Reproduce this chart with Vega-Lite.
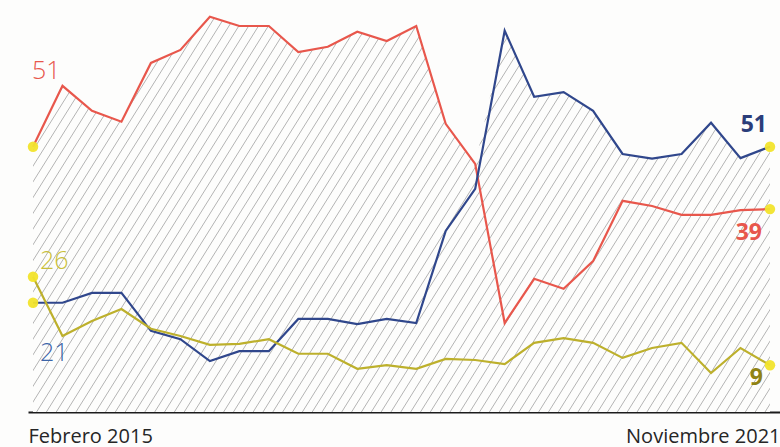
{
"$schema":"https://vega.github.io/schema/vega-lite/v6.json",
"autosize":{"type":"none"},
"padding":{"left":28,"top":0,"right":0,"bottom":35},
"width":752,"height":412,
"background":"#fdfdfc",
"config":{"view":{"stroke":null}},
"data":{"values":[
{"i":0,"s":"rojo","v":51},{"i":1,"s":"rojo","v":62.7},{"i":2,"s":"rojo","v":57.9},{"i":3,"s":"rojo","v":55.8},{"i":4,"s":"rojo","v":67.1},{"i":5,"s":"rojo","v":69.6},{"i":6,"s":"rojo","v":76},{"i":7,"s":"rojo","v":74.2},{"i":8,"s":"rojo","v":74.2},{"i":9,"s":"rojo","v":69.2},{"i":10,"s":"rojo","v":70.2},{"i":11,"s":"rojo","v":73.1},{"i":12,"s":"rojo","v":71.3},{"i":13,"s":"rojo","v":74.2},{"i":14,"s":"rojo","v":55.4},{"i":15,"s":"rojo","v":47.7},{"i":16,"s":"rojo","v":17.1},{"i":17,"s":"rojo","v":25.6},{"i":18,"s":"rojo","v":23.7},{"i":19,"s":"rojo","v":29},{"i":20,"s":"rojo","v":40.6},{"i":21,"s":"rojo","v":39.6},{"i":22,"s":"rojo","v":37.9},{"i":23,"s":"rojo","v":37.9},{"i":24,"s":"rojo","v":38.8},{"i":25,"s":"rojo","v":39},
{"i":0,"s":"azul","v":21},{"i":1,"s":"azul","v":21},{"i":2,"s":"azul","v":22.9},{"i":3,"s":"azul","v":22.9},{"i":4,"s":"azul","v":15.6},{"i":5,"s":"azul","v":14},{"i":6,"s":"azul","v":9.8},{"i":7,"s":"azul","v":11.7},{"i":8,"s":"azul","v":11.7},{"i":9,"s":"azul","v":17.9},{"i":10,"s":"azul","v":17.9},{"i":11,"s":"azul","v":16.9},{"i":12,"s":"azul","v":17.9},{"i":13,"s":"azul","v":17.1},{"i":14,"s":"azul","v":34.8},{"i":15,"s":"azul","v":42.9},{"i":16,"s":"azul","v":73.3},{"i":17,"s":"azul","v":60.6},{"i":18,"s":"azul","v":61.5},{"i":19,"s":"azul","v":57.9},{"i":20,"s":"azul","v":49.6},{"i":21,"s":"azul","v":48.7},{"i":22,"s":"azul","v":49.6},{"i":23,"s":"azul","v":55.6},{"i":24,"s":"azul","v":48.8},{"i":25,"s":"azul","v":51},
{"i":0,"s":"amarillo","v":26},{"i":1,"s":"amarillo","v":14.6},{"i":2,"s":"amarillo","v":17.5},{"i":3,"s":"amarillo","v":19.8},{"i":4,"s":"amarillo","v":16},{"i":5,"s":"amarillo","v":14.6},{"i":6,"s":"amarillo","v":12.9},{"i":7,"s":"amarillo","v":13.1},{"i":8,"s":"amarillo","v":14},{"i":9,"s":"amarillo","v":11.2},{"i":10,"s":"amarillo","v":11.2},{"i":11,"s":"amarillo","v":8.3},{"i":12,"s":"amarillo","v":9},{"i":13,"s":"amarillo","v":8.3},{"i":14,"s":"amarillo","v":10.2},{"i":15,"s":"amarillo","v":10},{"i":16,"s":"amarillo","v":9.2},{"i":17,"s":"amarillo","v":13.3},{"i":18,"s":"amarillo","v":14.2},{"i":19,"s":"amarillo","v":13.3},{"i":20,"s":"amarillo","v":10.4},{"i":21,"s":"amarillo","v":12.3},{"i":22,"s":"amarillo","v":13.3},{"i":23,"s":"amarillo","v":7.5},{"i":24,"s":"amarillo","v":12.3},{"i":25,"s":"amarillo","v":9}
]},
"encoding":{
"x":{"field":"i","type":"quantitative","scale":{"domain":[-0.17,25.34],"nice":false,"zero":false},
"axis":{"values":[-0.17,25.34],"labelExpr":"datum.value < 0 ? 'Febrero 2015' : 'Noviembre 2021'","labelFlush":true,"labelOverlap":false,"ticks":false,"tickSize":0,"grid":false,"domainColor":"#1c1c1c","domainWidth":2,"labelFont":"Open Sans","labelFontSize":20,"labelColor":"#262626","labelPadding":14,"labelBaseline":"top","title":null}},
"y":{"field":"v","type":"quantitative","scale":{"domain":[0,79.2],"nice":false},"axis":null}
},
"layer":[
{"mark":{"type":"area","fill":{"gradient":"linear","x1":0,"y1":0,"x2":1.2004,"y2":0.4031,"stops":[
{"offset":0.004,"color":"#fdfdfc"},{"offset":0.005,"color":"#b3b3b3"},{"offset":0.006,"color":"#fdfdfc"},
{"offset":0.014,"color":"#fdfdfc"},{"offset":0.015,"color":"#b3b3b3"},{"offset":0.016,"color":"#fdfdfc"},
{"offset":0.024,"color":"#fdfdfc"},{"offset":0.025,"color":"#b3b3b3"},{"offset":0.026,"color":"#fdfdfc"},
{"offset":0.034,"color":"#fdfdfc"},{"offset":0.035,"color":"#b3b3b3"},{"offset":0.036,"color":"#fdfdfc"},
{"offset":0.044,"color":"#fdfdfc"},{"offset":0.045,"color":"#b3b3b3"},{"offset":0.046,"color":"#fdfdfc"},
{"offset":0.054,"color":"#fdfdfc"},{"offset":0.055,"color":"#b3b3b3"},{"offset":0.056,"color":"#fdfdfc"},
{"offset":0.064,"color":"#fdfdfc"},{"offset":0.065,"color":"#b3b3b3"},{"offset":0.066,"color":"#fdfdfc"},
{"offset":0.074,"color":"#fdfdfc"},{"offset":0.075,"color":"#b3b3b3"},{"offset":0.076,"color":"#fdfdfc"},
{"offset":0.084,"color":"#fdfdfc"},{"offset":0.085,"color":"#b3b3b3"},{"offset":0.086,"color":"#fdfdfc"},
{"offset":0.094,"color":"#fdfdfc"},{"offset":0.095,"color":"#b3b3b3"},{"offset":0.096,"color":"#fdfdfc"},
{"offset":0.104,"color":"#fdfdfc"},{"offset":0.105,"color":"#b3b3b3"},{"offset":0.106,"color":"#fdfdfc"},
{"offset":0.114,"color":"#fdfdfc"},{"offset":0.115,"color":"#b3b3b3"},{"offset":0.116,"color":"#fdfdfc"},
{"offset":0.124,"color":"#fdfdfc"},{"offset":0.125,"color":"#b3b3b3"},{"offset":0.126,"color":"#fdfdfc"},
{"offset":0.134,"color":"#fdfdfc"},{"offset":0.135,"color":"#b3b3b3"},{"offset":0.136,"color":"#fdfdfc"},
{"offset":0.144,"color":"#fdfdfc"},{"offset":0.145,"color":"#b3b3b3"},{"offset":0.146,"color":"#fdfdfc"},
{"offset":0.154,"color":"#fdfdfc"},{"offset":0.155,"color":"#b3b3b3"},{"offset":0.156,"color":"#fdfdfc"},
{"offset":0.164,"color":"#fdfdfc"},{"offset":0.165,"color":"#b3b3b3"},{"offset":0.166,"color":"#fdfdfc"},
{"offset":0.174,"color":"#fdfdfc"},{"offset":0.175,"color":"#b3b3b3"},{"offset":0.176,"color":"#fdfdfc"},
{"offset":0.184,"color":"#fdfdfc"},{"offset":0.185,"color":"#b3b3b3"},{"offset":0.186,"color":"#fdfdfc"},
{"offset":0.194,"color":"#fdfdfc"},{"offset":0.195,"color":"#b3b3b3"},{"offset":0.196,"color":"#fdfdfc"},
{"offset":0.204,"color":"#fdfdfc"},{"offset":0.205,"color":"#b3b3b3"},{"offset":0.206,"color":"#fdfdfc"},
{"offset":0.214,"color":"#fdfdfc"},{"offset":0.215,"color":"#b3b3b3"},{"offset":0.216,"color":"#fdfdfc"},
{"offset":0.224,"color":"#fdfdfc"},{"offset":0.225,"color":"#b3b3b3"},{"offset":0.226,"color":"#fdfdfc"},
{"offset":0.234,"color":"#fdfdfc"},{"offset":0.235,"color":"#b3b3b3"},{"offset":0.236,"color":"#fdfdfc"},
{"offset":0.244,"color":"#fdfdfc"},{"offset":0.245,"color":"#b3b3b3"},{"offset":0.246,"color":"#fdfdfc"},
{"offset":0.254,"color":"#fdfdfc"},{"offset":0.255,"color":"#b3b3b3"},{"offset":0.256,"color":"#fdfdfc"},
{"offset":0.264,"color":"#fdfdfc"},{"offset":0.265,"color":"#b3b3b3"},{"offset":0.266,"color":"#fdfdfc"},
{"offset":0.274,"color":"#fdfdfc"},{"offset":0.275,"color":"#b3b3b3"},{"offset":0.276,"color":"#fdfdfc"},
{"offset":0.284,"color":"#fdfdfc"},{"offset":0.285,"color":"#b3b3b3"},{"offset":0.286,"color":"#fdfdfc"},
{"offset":0.294,"color":"#fdfdfc"},{"offset":0.295,"color":"#b3b3b3"},{"offset":0.296,"color":"#fdfdfc"},
{"offset":0.304,"color":"#fdfdfc"},{"offset":0.305,"color":"#b3b3b3"},{"offset":0.306,"color":"#fdfdfc"},
{"offset":0.314,"color":"#fdfdfc"},{"offset":0.315,"color":"#b3b3b3"},{"offset":0.316,"color":"#fdfdfc"},
{"offset":0.324,"color":"#fdfdfc"},{"offset":0.325,"color":"#b3b3b3"},{"offset":0.326,"color":"#fdfdfc"},
{"offset":0.334,"color":"#fdfdfc"},{"offset":0.335,"color":"#b3b3b3"},{"offset":0.336,"color":"#fdfdfc"},
{"offset":0.344,"color":"#fdfdfc"},{"offset":0.345,"color":"#b3b3b3"},{"offset":0.346,"color":"#fdfdfc"},
{"offset":0.354,"color":"#fdfdfc"},{"offset":0.355,"color":"#b3b3b3"},{"offset":0.356,"color":"#fdfdfc"},
{"offset":0.364,"color":"#fdfdfc"},{"offset":0.365,"color":"#b3b3b3"},{"offset":0.366,"color":"#fdfdfc"},
{"offset":0.374,"color":"#fdfdfc"},{"offset":0.375,"color":"#b3b3b3"},{"offset":0.376,"color":"#fdfdfc"},
{"offset":0.384,"color":"#fdfdfc"},{"offset":0.385,"color":"#b3b3b3"},{"offset":0.386,"color":"#fdfdfc"},
{"offset":0.394,"color":"#fdfdfc"},{"offset":0.395,"color":"#b3b3b3"},{"offset":0.396,"color":"#fdfdfc"},
{"offset":0.404,"color":"#fdfdfc"},{"offset":0.405,"color":"#b3b3b3"},{"offset":0.406,"color":"#fdfdfc"},
{"offset":0.414,"color":"#fdfdfc"},{"offset":0.415,"color":"#b3b3b3"},{"offset":0.416,"color":"#fdfdfc"},
{"offset":0.424,"color":"#fdfdfc"},{"offset":0.425,"color":"#b3b3b3"},{"offset":0.426,"color":"#fdfdfc"},
{"offset":0.434,"color":"#fdfdfc"},{"offset":0.435,"color":"#b3b3b3"},{"offset":0.436,"color":"#fdfdfc"},
{"offset":0.444,"color":"#fdfdfc"},{"offset":0.445,"color":"#b3b3b3"},{"offset":0.446,"color":"#fdfdfc"},
{"offset":0.454,"color":"#fdfdfc"},{"offset":0.455,"color":"#b3b3b3"},{"offset":0.456,"color":"#fdfdfc"},
{"offset":0.464,"color":"#fdfdfc"},{"offset":0.465,"color":"#b3b3b3"},{"offset":0.466,"color":"#fdfdfc"},
{"offset":0.474,"color":"#fdfdfc"},{"offset":0.475,"color":"#b3b3b3"},{"offset":0.476,"color":"#fdfdfc"},
{"offset":0.484,"color":"#fdfdfc"},{"offset":0.485,"color":"#b3b3b3"},{"offset":0.486,"color":"#fdfdfc"},
{"offset":0.494,"color":"#fdfdfc"},{"offset":0.495,"color":"#b3b3b3"},{"offset":0.496,"color":"#fdfdfc"},
{"offset":0.504,"color":"#fdfdfc"},{"offset":0.505,"color":"#b3b3b3"},{"offset":0.506,"color":"#fdfdfc"},
{"offset":0.514,"color":"#fdfdfc"},{"offset":0.515,"color":"#b3b3b3"},{"offset":0.516,"color":"#fdfdfc"},
{"offset":0.524,"color":"#fdfdfc"},{"offset":0.525,"color":"#b3b3b3"},{"offset":0.526,"color":"#fdfdfc"},
{"offset":0.534,"color":"#fdfdfc"},{"offset":0.535,"color":"#b3b3b3"},{"offset":0.536,"color":"#fdfdfc"},
{"offset":0.544,"color":"#fdfdfc"},{"offset":0.545,"color":"#b3b3b3"},{"offset":0.546,"color":"#fdfdfc"},
{"offset":0.554,"color":"#fdfdfc"},{"offset":0.555,"color":"#b3b3b3"},{"offset":0.556,"color":"#fdfdfc"},
{"offset":0.564,"color":"#fdfdfc"},{"offset":0.565,"color":"#b3b3b3"},{"offset":0.566,"color":"#fdfdfc"},
{"offset":0.574,"color":"#fdfdfc"},{"offset":0.575,"color":"#b3b3b3"},{"offset":0.576,"color":"#fdfdfc"},
{"offset":0.584,"color":"#fdfdfc"},{"offset":0.585,"color":"#b3b3b3"},{"offset":0.586,"color":"#fdfdfc"},
{"offset":0.594,"color":"#fdfdfc"},{"offset":0.595,"color":"#b3b3b3"},{"offset":0.596,"color":"#fdfdfc"},
{"offset":0.604,"color":"#fdfdfc"},{"offset":0.605,"color":"#b3b3b3"},{"offset":0.606,"color":"#fdfdfc"},
{"offset":0.614,"color":"#fdfdfc"},{"offset":0.615,"color":"#b3b3b3"},{"offset":0.616,"color":"#fdfdfc"},
{"offset":0.624,"color":"#fdfdfc"},{"offset":0.625,"color":"#b3b3b3"},{"offset":0.626,"color":"#fdfdfc"},
{"offset":0.634,"color":"#fdfdfc"},{"offset":0.635,"color":"#b3b3b3"},{"offset":0.636,"color":"#fdfdfc"},
{"offset":0.644,"color":"#fdfdfc"},{"offset":0.645,"color":"#b3b3b3"},{"offset":0.646,"color":"#fdfdfc"},
{"offset":0.654,"color":"#fdfdfc"},{"offset":0.655,"color":"#b3b3b3"},{"offset":0.656,"color":"#fdfdfc"},
{"offset":0.664,"color":"#fdfdfc"},{"offset":0.665,"color":"#b3b3b3"},{"offset":0.666,"color":"#fdfdfc"},
{"offset":0.674,"color":"#fdfdfc"},{"offset":0.675,"color":"#b3b3b3"},{"offset":0.676,"color":"#fdfdfc"},
{"offset":0.684,"color":"#fdfdfc"},{"offset":0.685,"color":"#b3b3b3"},{"offset":0.686,"color":"#fdfdfc"},
{"offset":0.694,"color":"#fdfdfc"},{"offset":0.695,"color":"#b3b3b3"},{"offset":0.696,"color":"#fdfdfc"},
{"offset":0.704,"color":"#fdfdfc"},{"offset":0.705,"color":"#b3b3b3"},{"offset":0.706,"color":"#fdfdfc"},
{"offset":0.714,"color":"#fdfdfc"},{"offset":0.715,"color":"#b3b3b3"},{"offset":0.716,"color":"#fdfdfc"},
{"offset":0.724,"color":"#fdfdfc"},{"offset":0.725,"color":"#b3b3b3"},{"offset":0.726,"color":"#fdfdfc"},
{"offset":0.734,"color":"#fdfdfc"},{"offset":0.735,"color":"#b3b3b3"},{"offset":0.736,"color":"#fdfdfc"},
{"offset":0.744,"color":"#fdfdfc"},{"offset":0.745,"color":"#b3b3b3"},{"offset":0.746,"color":"#fdfdfc"},
{"offset":0.754,"color":"#fdfdfc"},{"offset":0.755,"color":"#b3b3b3"},{"offset":0.756,"color":"#fdfdfc"},
{"offset":0.764,"color":"#fdfdfc"},{"offset":0.765,"color":"#b3b3b3"},{"offset":0.766,"color":"#fdfdfc"},
{"offset":0.774,"color":"#fdfdfc"},{"offset":0.775,"color":"#b3b3b3"},{"offset":0.776,"color":"#fdfdfc"},
{"offset":0.784,"color":"#fdfdfc"},{"offset":0.785,"color":"#b3b3b3"},{"offset":0.786,"color":"#fdfdfc"},
{"offset":0.794,"color":"#fdfdfc"},{"offset":0.795,"color":"#b3b3b3"},{"offset":0.796,"color":"#fdfdfc"},
{"offset":0.804,"color":"#fdfdfc"},{"offset":0.805,"color":"#b3b3b3"},{"offset":0.806,"color":"#fdfdfc"},
{"offset":0.814,"color":"#fdfdfc"},{"offset":0.815,"color":"#b3b3b3"},{"offset":0.816,"color":"#fdfdfc"},
{"offset":0.824,"color":"#fdfdfc"},{"offset":0.825,"color":"#b3b3b3"},{"offset":0.826,"color":"#fdfdfc"},
{"offset":0.834,"color":"#fdfdfc"},{"offset":0.835,"color":"#b3b3b3"},{"offset":0.836,"color":"#fdfdfc"},
{"offset":0.844,"color":"#fdfdfc"},{"offset":0.845,"color":"#b3b3b3"},{"offset":0.846,"color":"#fdfdfc"},
{"offset":0.854,"color":"#fdfdfc"},{"offset":0.855,"color":"#b3b3b3"},{"offset":0.856,"color":"#fdfdfc"},
{"offset":0.864,"color":"#fdfdfc"},{"offset":0.865,"color":"#b3b3b3"},{"offset":0.866,"color":"#fdfdfc"},
{"offset":0.874,"color":"#fdfdfc"},{"offset":0.875,"color":"#b3b3b3"},{"offset":0.876,"color":"#fdfdfc"},
{"offset":0.884,"color":"#fdfdfc"},{"offset":0.885,"color":"#b3b3b3"},{"offset":0.886,"color":"#fdfdfc"},
{"offset":0.894,"color":"#fdfdfc"},{"offset":0.895,"color":"#b3b3b3"},{"offset":0.896,"color":"#fdfdfc"},
{"offset":0.904,"color":"#fdfdfc"},{"offset":0.905,"color":"#b3b3b3"},{"offset":0.906,"color":"#fdfdfc"},
{"offset":0.914,"color":"#fdfdfc"},{"offset":0.915,"color":"#b3b3b3"},{"offset":0.916,"color":"#fdfdfc"},
{"offset":0.924,"color":"#fdfdfc"},{"offset":0.925,"color":"#b3b3b3"},{"offset":0.926,"color":"#fdfdfc"},
{"offset":0.934,"color":"#fdfdfc"},{"offset":0.935,"color":"#b3b3b3"},{"offset":0.936,"color":"#fdfdfc"},
{"offset":0.944,"color":"#fdfdfc"},{"offset":0.945,"color":"#b3b3b3"},{"offset":0.946,"color":"#fdfdfc"},
{"offset":0.954,"color":"#fdfdfc"},{"offset":0.955,"color":"#b3b3b3"},{"offset":0.956,"color":"#fdfdfc"},
{"offset":0.964,"color":"#fdfdfc"},{"offset":0.965,"color":"#b3b3b3"},{"offset":0.966,"color":"#fdfdfc"},
{"offset":0.974,"color":"#fdfdfc"},{"offset":0.975,"color":"#b3b3b3"},{"offset":0.976,"color":"#fdfdfc"},
{"offset":0.984,"color":"#fdfdfc"},{"offset":0.985,"color":"#b3b3b3"},{"offset":0.986,"color":"#fdfdfc"},
{"offset":0.994,"color":"#fdfdfc"},{"offset":0.995,"color":"#b3b3b3"},{"offset":0.996,"color":"#fdfdfc"}
]},"strokeWidth":0},
"encoding":{"y":{"aggregate":"max","field":"v","type":"quantitative","scale":{"domain":[0,79.2],"nice":false},"axis":null}}},
{"mark":{"type":"line","strokeWidth":2.2},
"encoding":{"color":{"field":"s","type":"nominal","scale":{"domain":["azul","amarillo","rojo"],"range":["#30478c","#bdb02c","#e8574c"]},"legend":null}}},
{"transform":[{"filter":"datum.i == 0 || datum.i == 25"}],
"mark":{"type":"circle","size":110,"color":"#f2e42c","opacity":0.95}},
{"transform":[{"filter":"datum.s == 'rojo' && datum.i == 0"}],
"mark":{"type":"text","align":"left","baseline":"middle","dx":-1,"dy":-76,"font":"Open Sans","fontSize":25,"fontWeight":300,"color":"#e8574c"},
"encoding":{"text":{"field":"v","type":"quantitative","format":"d"}}},
{"transform":[{"filter":"datum.s == 'amarillo' && datum.i == 0"}],
"mark":{"type":"text","align":"left","baseline":"middle","dx":7,"dy":-16,"font":"Open Sans","fontSize":25,"fontWeight":300,"color":"#c9bf3a"},
"encoding":{"text":{"field":"v","type":"quantitative","format":"d"}}},
{"transform":[{"filter":"datum.s == 'azul' && datum.i == 0"}],
"mark":{"type":"text","align":"left","baseline":"middle","dx":7,"dy":50,"font":"Open Sans","fontSize":25,"fontWeight":300,"color":"#3d65a8"},
"encoding":{"text":{"field":"v","type":"quantitative","format":"d"}}},
{"transform":[{"filter":"datum.s == 'azul' && datum.i == 25"}],
"mark":{"type":"text","align":"right","baseline":"middle","dx":-3,"dy":-22,"font":"Open Sans","fontSize":23,"fontWeight":"bold","color":"#2b3d7a"},
"encoding":{"text":{"field":"v","type":"quantitative","format":"d"}}},
{"transform":[{"filter":"datum.s == 'rojo' && datum.i == 25"}],
"mark":{"type":"text","align":"right","baseline":"middle","dx":-8,"dy":24,"font":"Open Sans","fontSize":23,"fontWeight":"bold","color":"#e8574c"},
"encoding":{"text":{"field":"v","type":"quantitative","format":"d"}}},
{"transform":[{"filter":"datum.s == 'amarillo' && datum.i == 25"}],
"mark":{"type":"text","align":"right","baseline":"middle","dx":-7,"dy":13,"font":"Open Sans","fontSize":23,"fontWeight":"bold","color":"#8f8214"},
"encoding":{"text":{"field":"v","type":"quantitative","format":"d"}}}
]
}
